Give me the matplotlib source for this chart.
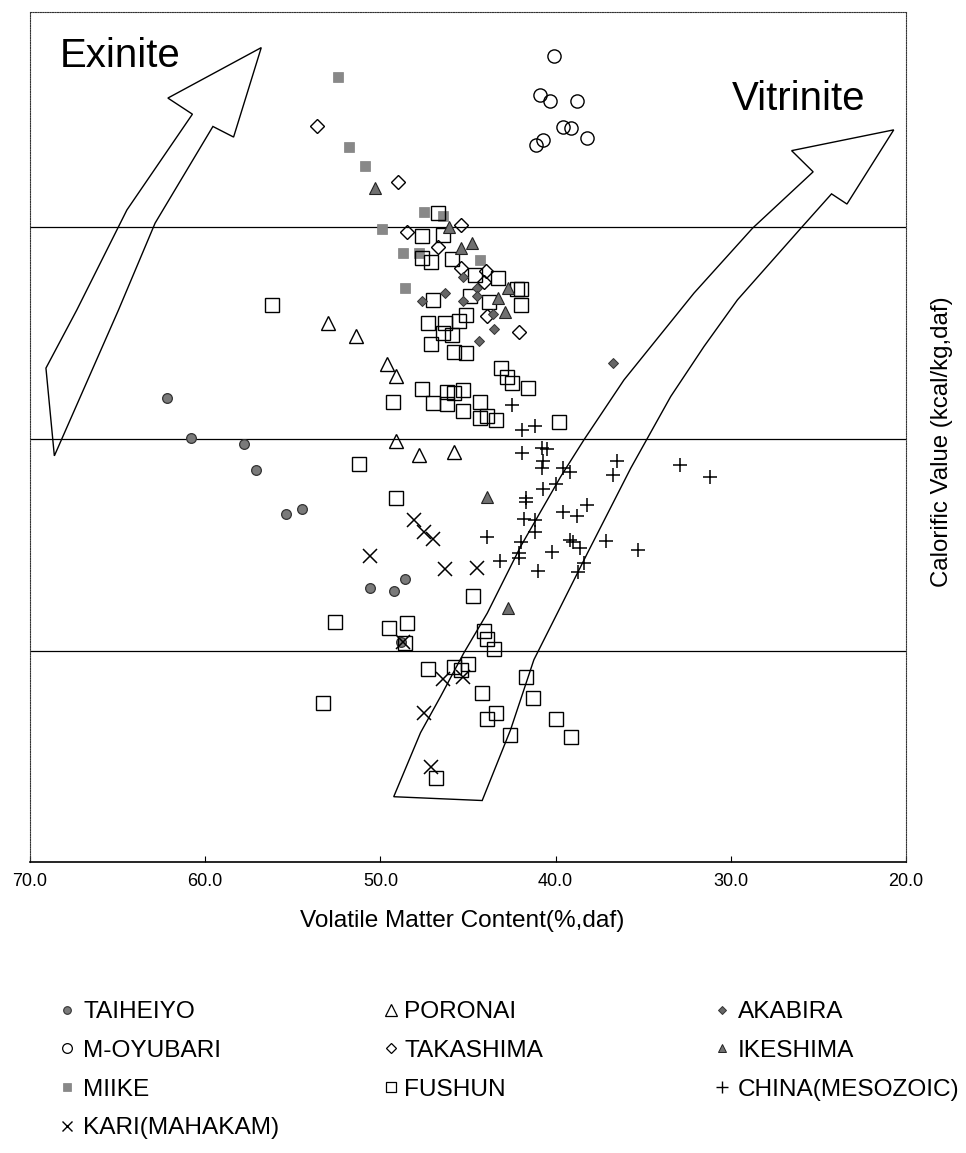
import matplotlib
matplotlib.use("Agg")
import matplotlib.pyplot as plt
from matplotlib.lines import Line2D
from matplotlib.patches import Polygon

plt.rcParams['font.family'] = ['Liberation Sans', 'DejaVu Sans']

# ---------------- data (volatile matter %, calorific value kcal/kg) -------------
taiheiyo_vm = [62.2, 60.8, 57.8, 57.1, 55.4, 54.5, 50.6, 49.2, 48.6, 48.8]
taiheiyo_cv = [7596, 7503, 7487, 7427, 7322, 7334, 7148, 7142, 7169, 7022]

oyubari_vm = [40.1, 40.9, 40.3, 38.8, 39.6, 39.1, 38.2, 40.7, 41.1]
oyubari_cv = [8403, 8311, 8297, 8297, 8236, 8233, 8210, 8205, 8193]

miike_vm = [52.4, 51.8, 50.9, 47.5, 46.4, 49.9, 48.7, 47.8, 44.3, 48.6]
miike_cv = [8353, 8188, 8144, 8036, 8026, 7995, 7939, 7939, 7921, 7855]

kari_vm = [48.1, 47.5, 47.0, 50.6, 46.3, 44.5, 46.4, 45.3, 47.5, 47.1, 48.7]
kari_cv = [7309, 7281, 7264, 7224, 7193, 7196, 6934, 6939, 6854, 6726, 7021]

poronai_vm = [53.0, 51.4, 49.6, 49.1, 49.1, 47.8, 45.8]
poronai_cv = [7773, 7743, 7676, 7649, 7496, 7462, 7470]

takashima_vm = [53.6, 49.0, 45.4, 48.5, 46.7, 45.4, 44.0, 44.1, 43.9, 42.1]
takashima_cv = [8238, 8107, 8005, 7989, 7952, 7903, 7895, 7871, 7790, 7752]

fushun_vm = [56.2, 46.7, 47.6, 46.4, 47.6, 47.1, 45.9, 44.6, 43.3, 42.2,
             42.0, 47.0, 44.9, 43.8, 42.0, 47.3, 46.3, 45.1, 45.5, 46.4,
             45.9, 47.1, 45.8, 45.1, 43.1, 42.8, 42.5, 41.6, 49.3, 47.6,
             47.0, 46.2, 45.8, 45.3, 46.2, 45.3, 44.3, 44.3, 43.9, 43.4,
             39.8, 51.2, 49.1, 44.7, 52.6, 49.5, 48.5, 48.6, 44.1, 43.9,
             43.5, 47.3, 45.8, 45.4, 45.0, 41.7, 44.2, 41.3, 53.3, 43.4,
             43.9, 40.0, 42.6, 39.1, 46.8]
fushun_cv = [7816, 8034, 7979, 7981, 7926, 7918, 7924, 7887, 7879, 7853,
             7853, 7828, 7836, 7824, 7816, 7774, 7774, 7792, 7778, 7749,
             7745, 7724, 7704, 7702, 7667, 7647, 7633, 7621, 7588, 7618,
             7585, 7610, 7608, 7615, 7583, 7565, 7587, 7549, 7554, 7545,
             7540, 7441, 7360, 7130, 7067, 7054, 7065, 7018, 7046, 7027,
             7004, 6957, 6962, 6956, 6968, 6938, 6900, 6890, 6877, 6853,
             6839, 6840, 6802, 6798, 6701]

akabira_vm = [45.3, 46.3, 47.6, 45.3, 44.5, 44.5, 43.6, 43.5, 44.4, 36.7]
akabira_cv = [7881, 7845, 7826, 7826, 7855, 7836, 7795, 7759, 7732, 7680]

ikeshima_vm = [50.3, 46.1, 45.4, 44.8, 42.7, 43.3, 42.9, 43.9, 42.7]
ikeshima_cv = [8093, 8001, 7950, 7962, 7855, 7832, 7800, 7362, 7101]

china_vm = [42.5, 41.9, 41.2, 41.9, 40.8, 40.5, 40.7, 40.8, 39.6, 39.2,
            36.5, 36.7, 32.9, 31.2, 40.0, 40.7, 41.7, 41.7, 38.2, 39.6,
            38.8, 41.8, 41.2, 41.2, 43.9, 42.0, 39.2, 39.0, 38.6, 37.1,
            35.3, 40.2, 42.1, 42.1, 43.2, 38.4, 41.0, 38.7]
china_cv = [7580, 7520, 7531, 7466, 7479, 7476, 7447, 7431, 7431, 7422,
            7449, 7415, 7439, 7410, 7393, 7381, 7360, 7352, 7343, 7327,
            7319, 7310, 7309, 7281, 7268, 7258, 7261, 7258, 7242, 7260,
            7238, 7234, 7232, 7219, 7211, 7208, 7189, 7186]

# reference lines and band outlines (annotations)
hline_cv = [8000, 7500, 7000]
exinite_arrow_vm = [56.8, 62.13, 60.73, 64.47, 67.33, 69.09, 68.61, 64.95, 62.86, 59.56, 58.38]
exinite_arrow_cv = [8423, 8304, 8266, 8040, 7804, 7667, 7460, 7804, 8009, 8237, 8212]
vitrinite_arrow_vm = [20.70, 26.53, 25.30, 28.76, 32.10, 36.10, 38.38, 39.71, 42.0, 43.90,
                      45.24, 46.57, 47.71, 49.24, 44.19, 42.57, 41.24, 39.90, 38.19, 35.71,
                      33.43, 31.53, 29.62, 26.0, 24.25, 23.37]
vitrinite_arrow_cv = [8229, 8180, 8130, 7997, 7844, 7639, 7498, 7411, 7246, 7089,
                      6995, 6892, 6807, 6656, 6647, 6814, 6979, 7089, 7230, 7431,
                      7600, 7718, 7828, 7997, 8078, 8054]

x_ticks = [70, 60, 50, 40, 30, 20]

# ---------------- figure ----------------
W, H = 966, 1153
fig = plt.figure(figsize=(W / 100, H / 100), dpi=100)
L, R, T, B = 30, 906, 12, 862
ax = fig.add_axes([L / W, 1 - B / H, (R - L) / W, (B - T) / H])
ax.set_xlim(70, 20)
ax.set_ylim(6502, 8507)

for y in hline_cv:
    ax.axhline(y, color='black', lw=0.9, zorder=1)

ax.add_patch(Polygon(list(zip(exinite_arrow_vm, exinite_arrow_cv)), closed=True,
                     fill=False, ec='black', lw=1.0, zorder=2, joinstyle='miter'))
ax.add_patch(Polygon(list(zip(vitrinite_arrow_vm, vitrinite_arrow_cv)), closed=True,
                     fill=False, ec='black', lw=1.0, zorder=2, joinstyle='miter'))

GRAY = '#7a7a7a'
series = [
    ('TAIHEIYO', taiheiyo_vm, taiheiyo_cv, dict(marker='o', ms=7, mfc=GRAY, mec='#333333', mew=0.9)),
    ('M-OYUBARI', oyubari_vm, oyubari_cv, dict(marker='o', ms=9.5, mfc='none', mec='black', mew=1.0)),
    ('MIIKE', miike_vm, miike_cv, dict(marker='s', ms=7, mfc='#888888', mec='#808080', mew=0.5)),
    ('KARI(MAHAKAM)', kari_vm, kari_cv, dict(marker='x', ms=10.5, mfc='none', mec='black', mew=1.1)),
    ('PORONAI', poronai_vm, poronai_cv, dict(marker='^', ms=10, mfc='none', mec='black', mew=1.0)),
    ('TAKASHIMA', takashima_vm, takashima_cv, dict(marker='D', ms=7.5, mfc='none', mec='black', mew=1.0)),
    ('FUSHUN', fushun_vm, fushun_cv, dict(marker='s', ms=9.5, mfc='none', mec='black', mew=1.0)),
    ('AKABIRA', akabira_vm, akabira_cv, dict(marker='D', ms=5, mfc='#666666', mec='#333333', mew=0.7)),
    ('IKESHIMA', ikeshima_vm, ikeshima_cv, dict(marker='^', ms=8, mfc='#707070', mec='#222222', mew=0.8)),
    ('CHINA(MESOZOIC)', china_vm, china_cv, dict(marker='+', ms=10.5, mfc='none', mec='black', mew=1.1)),
]
for name, xs, ys, st in series:
    ax.plot(xs, ys, linestyle='none', zorder=3, **st)

# axes styling
ax.set_yticks([])
ax.set_xticks(x_ticks)
ax.set_xticklabels([f'{t:.1f}' for t in x_ticks], fontsize=13)
ax.tick_params(axis='x', direction='in', length=4, width=0.8, pad=8)
for side in ['top', 'left', 'right']:
    ax.spines[side].set_linestyle((0, (1, 1.2)))
    ax.spines[side].set_linewidth(0.8)
    ax.spines[side].set_color('#333333')
ax.spines['bottom'].set_linewidth(1.2)

ax.set_xlabel('Volatile Matter Content(%,daf)', fontsize=17.6)
ax.xaxis.set_label_coords(0.493, -0.057)
fig.text(942 / W, 1 - 442 / H, 'Calorific Value (kcal/kg,daf)', rotation=90,
         ha='center', va='center', fontsize=17.3)

fig.text(60 / W, 1 - 67 / H, 'Exinite', fontsize=29, ha='left', va='baseline')
fig.text(732 / W, 1 - 110 / H, 'Vitrinite', fontsize=29, ha='left', va='baseline')

# legend in three columns
leg_ms = {
    'TAIHEIYO': dict(marker='o', ms=5.5, mfc=GRAY, mec='#333333', mew=0.8),
    'M-OYUBARI': dict(marker='o', ms=7, mfc='none', mec='black', mew=0.9),
    'MIIKE': dict(marker='s', ms=6, mfc='#888888', mec='#808080', mew=0.5),
    'KARI(MAHAKAM)': dict(marker='x', ms=7.5, mfc='none', mec='black', mew=1.0),
    'PORONAI': dict(marker='^', ms=8, mfc='none', mec='black', mew=0.9),
    'TAKASHIMA': dict(marker='D', ms=5.5, mfc='none', mec='black', mew=0.9),
    'FUSHUN': dict(marker='s', ms=7, mfc='none', mec='black', mew=0.9),
    'AKABIRA': dict(marker='D', ms=4.5, mfc='#666666', mec='#333333', mew=0.7),
    'IKESHIMA': dict(marker='^', ms=6, mfc='#707070', mec='#222222', mew=0.7),
    'CHINA(MESOZOIC)': dict(marker='+', ms=8.5, mfc='none', mec='black', mew=1.0),
}
columns = [
    (['TAIHEIYO', 'M-OYUBARI', 'MIIKE', 'KARI(MAHAKAM)'], 60, 0.36),
    (['PORONAI', 'TAKASHIMA', 'FUSHUN'], 384, 0.22),
    (['AKABIRA', 'IKESHIMA', 'CHINA(MESOZOIC)'], 715, 0.32),
]
for names, x0, pad in columns:
    handles = [Line2D([], [], linestyle='none', **leg_ms[n]) for n in names]
    fig.legend(handles, names, loc='upper left', bbox_to_anchor=(x0 / W, 1 - 1001 / H),
               frameon=False, fontsize=17.6, handlelength=0.6, handletextpad=pad,
               borderpad=0, borderaxespad=0, labelspacing=0.68)

fig.savefig('out.png', dpi=100)
